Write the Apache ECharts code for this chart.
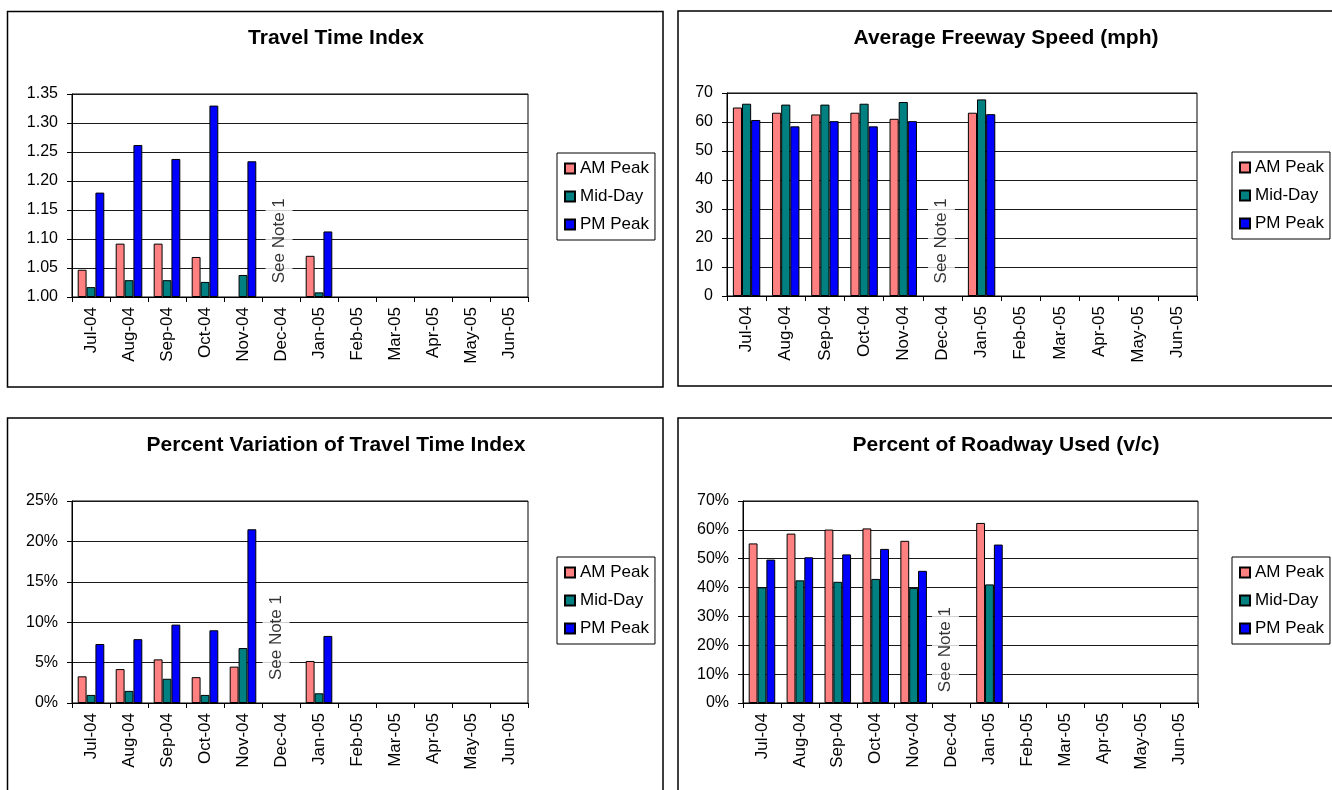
<!DOCTYPE html>
<html>
<head>
<meta charset="utf-8">
<script src="https://cdn.jsdelivr.net/npm/echarts@6/dist/echarts.min.js"></script>
<style>
  html, body { margin: 0; padding: 0; background: #ffffff; }
  #chart { width: 1332px; height: 790px; }
</style>
</head>
<body>
<div id="chart"></div>
<script>
// Monthly categories shared by all four panels
const months = ['Jul-04', 'Aug-04', 'Sep-04', 'Oct-04', 'Nov-04', 'Dec-04',
                'Jan-05', 'Feb-05', 'Mar-05', 'Apr-05', 'May-05', 'Jun-05'];
const seriesNames = ['AM Peak', 'Mid-Day', 'PM Peak'];

// Travel Time Index
const ttiAm  = [1.047, 1.092, 1.092, 1.069, null, null, 1.071, null, null, null, null, null];
const ttiMid = [1.017, 1.029, 1.029, 1.026, 1.038, null, 1.008, null, null, null, null, null];
const ttiPm  = [1.180, 1.262, 1.238, 1.330, 1.234, null, 1.113, null, null, null, null, null];

// Average Freeway Speed (mph)
const speedAm  = [65.0, 63.2, 62.6, 63.2, 61.1, null, 63.2, null, null, null, null, null];
const speedMid = [66.3, 66.0, 66.0, 66.3, 66.9, null, 67.8, null, null, null, null, null];
const speedPm  = [60.7, 58.5, 60.3, 58.5, 60.3, null, 62.7, null, null, null, null, null];

// Percent Variation of Travel Time Index (%)
const varAm  = [3.3, 4.2, 5.4, 3.2, 4.5, null, 5.2, null, null, null, null, null];
const varMid = [1.0, 1.5, 3.0, 1.0, 6.8, null, 1.2, null, null, null, null, null];
const varPm  = [7.3, 7.9, 9.7, 9.0, 21.5, null, 8.3, null, null, null, null, null];

// Percent of Roadway Used, v/c (%)
const vcAm  = [55.3, 58.7, 60.1, 60.5, 56.2, null, 62.4, null, null, null, null, null];
const vcMid = [40.1, 42.5, 42.0, 43.0, 39.9, null, 41.1, null, null, null, null, null];
const vcPm  = [49.7, 50.5, 51.5, 53.4, 45.8, null, 54.9, null, null, null, null, null];

const titles = ['Travel Time Index', 'Average Freeway Speed (mph)',
                'Percent Variation of Travel Time Index', 'Percent of Roadway Used (v/c)'];
const noteText = 'See Note 1';
const noteMonth = 'Dec-04';

const colors = ['#FF8080', '#008080', '#0000FF'];
const FONT = '"Liberation Sans", Arial, Helvetica, sans-serif';

// Panel definitions: data, value axis scale and layout box
const panels = [
  { data: [ttiAm, ttiMid, ttiPm], min: 1.0, max: 1.35, step: 0.05, base: 1.0, noteAt: 1.097, noteDx: -2,
    fmt: v => v.toFixed(2),
    grid: { left: 72, top: 94, width: 456, height: 203 },
    frame: [7.5, 11.5, 655.5, 375.5], titleXY: [336, 38], legendXY: [557, 153] },
  { data: [speedAm, speedMid, speedPm], min: 0, max: 70, step: 10, base: 0, noteAt: 19, noteDx: -1,
    fmt: v => String(v),
    grid: { left: 727, top: 93, width: 470, height: 203 },
    frame: [678, 11, 700, 375], titleXY: [1006, 38], legendXY: [1232, 152] },
  { data: [varAm, varMid, varPm], min: 0, max: 25, step: 5, base: 0, noteAt: 8.1, noteDx: -5,
    fmt: v => v + '%',
    grid: { left: 72, top: 501, width: 456, height: 202 },
    frame: [7.5, 418, 655.5, 400], titleXY: [336, 445], legendXY: [557, 557] },
  { data: [vcAm, vcMid, vcPm], min: 0, max: 70, step: 10, base: 0, noteAt: 18.5, noteDx: -6,
    fmt: v => v + '%',
    grid: { left: 743, top: 501, width: 455, height: 202 },
    frame: [678, 418, 700, 400], titleXY: [1006, 445], legendXY: [1232, 557] }
];

const grids = [], xAxes = [], yAxes = [], series = [], legends = [], graphics = [];

panels.forEach((p, i) => {
  grids.push(Object.assign({ show: true, borderColor: '#000', borderWidth: 1,
                             backgroundColor: 'transparent', containLabel: false }, p.grid));

  xAxes.push({
    type: 'category', gridIndex: i, data: months, boundaryGap: true,
    axisLine: { show: true, lineStyle: { color: '#000', width: 1 } },
    axisTick: { show: true, length: 5, lineStyle: { color: '#000' } },
    axisLabel: { interval: 0, rotate: 90, margin: 10, fontSize: 17, color: '#000', fontFamily: FONT },
    splitLine: { show: false }
  });

  yAxes.push({
    type: 'value', gridIndex: i, min: p.min, max: p.max, interval: p.step, startValue: p.base,
    axisLine: { show: true, lineStyle: { color: '#000', width: 1 } },
    axisTick: { show: true, length: 5, lineStyle: { color: '#000' } },
    axisLabel: { margin: 14, fontSize: 16, color: '#000', fontFamily: FONT, formatter: p.fmt },
    splitLine: { show: true, lineStyle: { color: '#1a1a1a', width: 1 } }
  });

  p.data.forEach((vals, k) => {
    series.push({
      type: 'bar', name: seriesNames[k], xAxisIndex: i, yAxisIndex: i,
      data: vals, barGap: '0%', barCategoryGap: '30%', clip: true,
      itemStyle: { color: colors[k], borderColor: '#000', borderWidth: 1 },
      emphasis: { disabled: true }
    });
  });

  // Rotated note placed in the empty December slot; the label's local y axis
  // points to screen-right after the 90 degree turn, so the nudge goes there
  series.push({
    type: 'scatter', name: 'note' + i, xAxisIndex: i, yAxisIndex: i,
    data: [[noteMonth, p.noteAt]], symbol: 'rect', symbolSize: 1,
    itemStyle: { color: 'rgba(0,0,0,0)' }, z: 5,
    label: { show: true, position: 'inside', rotate: 90, formatter: noteText,
             offset: [0, p.noteDx],
             fontSize: 17, color: '#000', fontFamily: FONT,
             backgroundColor: '#fff', padding: [5, 6] },
    emphasis: { disabled: true }
  });

  legends.push({
    data: seriesNames, orient: 'vertical', left: p.legendXY[0], top: p.legendXY[1],
    icon: 'rect', itemWidth: 10, itemHeight: 10, itemGap: 11,
    padding: [7, 6, 7, 7], borderColor: '#000', borderWidth: 1, backgroundColor: '#fff',
    textStyle: { fontSize: 17, color: '#000', fontFamily: FONT },
    selectedMode: false
  });

  graphics.push({
    type: 'rect', silent: true, z: -10,
    shape: { x: p.frame[0], y: p.frame[1], width: p.frame[2], height: p.frame[3] },
    style: { fill: 'none', stroke: '#000', lineWidth: 1.5 }
  });
  graphics.push({
    type: 'text', silent: true,
    style: { text: titles[i], x: p.titleXY[0], y: p.titleXY[1], textAlign: 'center',
             textVerticalAlign: 'middle', fill: '#000',
             font: 'bold 21px ' + FONT }
  });
});

const chart = echarts.init(document.getElementById('chart'), null, { renderer: 'canvas' });
chart.setOption({
  animation: false,
  backgroundColor: '#fff',
  grid: grids,
  xAxis: xAxes,
  yAxis: yAxes,
  legend: legends,
  series: series,
  graphic: graphics
});
</script>
</body>
</html>
